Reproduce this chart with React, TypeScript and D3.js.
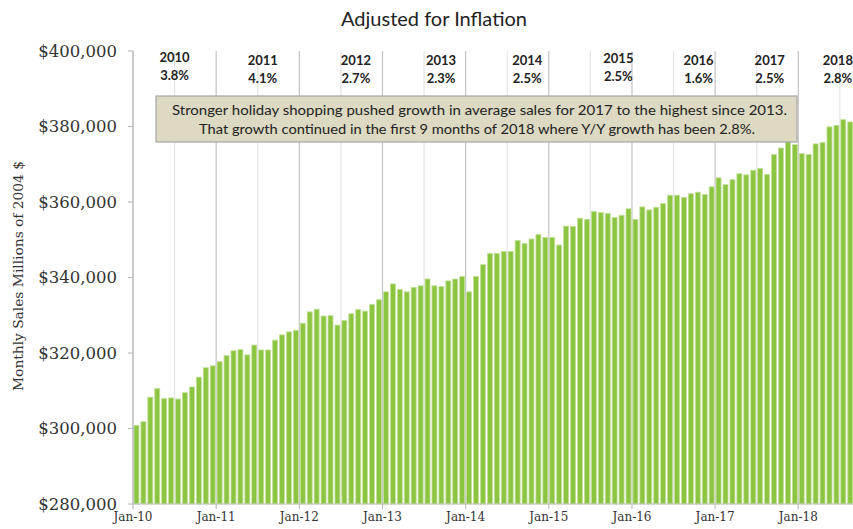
import React from 'react';
import * as d3 from 'd3';

// Monthly retail sales, millions of 2004 $, Jan-2010 .. Aug-2018
const salesValues: number[] = [
  // 2010
  300800, 301800, 308300, 310600, 307900, 308100, 307800, 309500, 311000, 313600, 316100, 316600,
  // 2011
  317700, 319300, 320600, 320900, 319500, 322100, 320800, 320800, 323400, 324800, 325600, 326000,
  // 2012
  327900, 330900, 331600, 329800, 329900, 327400, 328600, 330400, 331500, 331100, 332900, 334100,
  // 2013
  336200, 338300, 336800, 336200, 337400, 337800, 339600, 337800, 337600, 339100, 339600, 340300,
  // 2014
  336200, 340300, 343400, 346400, 346400, 346900, 346900, 349800, 349000, 350200, 351400, 350600,
  // 2015
  350600, 348600, 353600, 353500, 355700, 355400, 357500, 357200, 357000, 355900, 356500, 358200,
  // 2016
  355400, 358700, 357900, 358600, 359600, 361800, 361800, 361200, 362200, 362600, 362000, 364000,
  // 2017
  366400, 364600, 365900, 367500, 367200, 368400, 368900, 367300, 372600, 374300, 376100, 375200,
  // 2018
  372800, 372600, 375400, 375800, 379900, 380300, 381800, 381200,
];

const monthNames = ['Jan', 'Feb', 'Mar', 'Apr', 'May', 'Jun', 'Jul', 'Aug', 'Sep', 'Oct', 'Nov', 'Dec'];
const firstYear = 10;
const categories: string[] = salesValues.map(
  (_, i) => `${monthNames[i % 12]}-${firstYear + Math.floor(i / 12)}`
);

const xTickLabels = ['Jan-10', 'Jan-11', 'Jan-12', 'Jan-13', 'Jan-14', 'Jan-15', 'Jan-16', 'Jan-17', 'Jan-18'];
const yTicks = [280000, 300000, 320000, 340000, 360000, 380000, 400000];

const annYears = ['2010', '2011', '2012', '2013', '2014', '2015', '2016', '2017', '2018'];
const annGrowth = ['3.8%', '4.1%', '2.7%', '2.3%', '2.5%', '2.5%', '1.6%', '2.5%', '2.8%'];

const titleText = 'Adjusted for Inflation';
const yAxisTitle = 'Monthly Sales Millions of 2004 $';
const noteLines = [
  'Stronger holiday shopping  pushed growth in average sales for 2017 to the  highest since 2013.',
  'That growth continued in the first 9 months of 2018 where Y/Y growth has been 2.8%.',
];

// layout constants
const W = 853;
const H = 529;
const plotLeft = 133;
const plotTop = 51;
const plotBottom = 504;
const monthStep = 6.93;
const annDx = [0, 5, 15, 17, 20, 28, 25, 13, -2];
const annDy = [-3, 0, 0, 0, 0, -2, 0, 0, 0];

export default function App() {
  const n = salesValues.length;
  const plotRight = plotLeft + n * monthStep;

  const x = d3
    .scaleBand<string>()
    .domain(categories)
    .range([plotLeft, plotRight])
    .paddingInner(0.28)
    .paddingOuter(0.14);

  const edge = d3.scaleLinear().domain([0, n]).range([plotLeft, plotRight]);

  const y = d3.scaleLinear().domain([280000, 400000]).range([plotBottom, plotTop]);

  const fmt = (v: number) => '$' + d3.format(',')(v);

  const gridIdx = d3.range(0, n, 6);
  const janIdx = xTickLabels.map((lbl) => categories.indexOf(lbl));

  const serif = "'DejaVu Serif', 'Liberation Serif', serif";
  const sans = "Lato, 'Open Sans', sans-serif";

  return (
    <svg
      width={W}
      height={H}
      viewBox={`0 0 ${W} ${H}`}
      style={{ position: 'absolute', left: 0, top: 0, background: '#fff' }}
    >
      <rect x={0} y={0} width={W} height={H} fill="#fff" />

      {/* vertical gridlines: Jan (major) and Jul (minor) */}
      {gridIdx.map((k) => (
        <line
          key={'g' + k}
          x1={edge(k)}
          x2={edge(k)}
          y1={plotTop}
          y2={plotBottom}
          stroke={k % 12 === 0 ? '#c4c4c4' : '#e4e4e4'}
          strokeWidth={1.2}
        />
      ))}

      {/* bars */}
      {salesValues.map((v, i) => (
        <rect
          key={'b' + i}
          x={x(categories[i])!}
          y={y(v)}
          width={x.bandwidth()}
          height={plotBottom - y(v)}
          fill="#8cc540"
          stroke="#c3e09a"
          strokeWidth={0.8}
        />
      ))}

      {/* y axis */}
      <line x1={plotLeft} x2={plotLeft} y1={plotTop} y2={plotBottom} stroke="#bfbfbf" strokeWidth={1.2} />
      {yTicks.map((t) => (
        <g key={'yt' + t}>
          <line x1={plotLeft - 5} x2={plotLeft} y1={y(t)} y2={y(t)} stroke="#bfbfbf" strokeWidth={1.2} />
          <text
            x={117}
            y={y(t)}
            dy="0.35em"
            textAnchor="end"
            fontFamily={serif}
            fontSize={16.5}
            fill="#333"
          >
            {fmt(t)}
          </text>
        </g>
      ))}

      {/* x axis */}
      <line x1={plotLeft} x2={W} y1={plotBottom} y2={plotBottom} stroke="#bfbfbf" strokeWidth={1.2} />
      {janIdx.map((k, j) => (
        <g key={'xt' + k}>
          <line x1={edge(k)} x2={edge(k)} y1={plotBottom} y2={plotBottom + 5} stroke="#bfbfbf" strokeWidth={1.2} />
          <text
            x={edge(k)}
            y={521}
            textAnchor="middle"
            fontFamily={serif}
            fontSize={12}
            fill="#333"
          >
            {xTickLabels[j]}
          </text>
        </g>
      ))}

      {/* y axis title */}
      <text
        transform={`translate(23, 276) rotate(-90)`}
        textAnchor="middle"
        fontFamily={serif}
        fontSize={13.5}
        fill="#333"
        textLength={230}
        lengthAdjust="spacingAndGlyphs"
      >
        {yAxisTitle}
      </text>

      {/* title */}
      <text x={434} y={26} textAnchor="middle" fontFamily={sans} fontSize={20} fill="#222">
        {titleText}
      </text>

      {/* year growth annotations */}
      {annYears.map((yr, j) => {
        const cx = edge(janIdx[j] + 6) + annDx[j];
        return (
          <g key={'a' + yr} fontFamily={sans} fontWeight="bold" fontSize={13} fill="#222">
            <text x={cx} y={65 + annDy[j]} textAnchor="middle">
              {yr}
            </text>
            <text x={cx} y={83 + annDy[j]} textAnchor="middle">
              {annGrowth[j]}
            </text>
          </g>
        );
      })}

      {/* note box */}
      <rect x={156} y={96} width={641} height={46} fill="#ddd9c3" stroke="#a6a6a6" strokeWidth={1.2} />
      <text
        x={479.5}
        y={115}
        textAnchor="middle"
        fontFamily={sans}
        fontSize={13.5}
        fill="#222"
        textLength={615}
        lengthAdjust="spacingAndGlyphs"
      >
        {noteLines[0]}
      </text>
      <text
        x={477}
        y={134}
        textAnchor="middle"
        fontFamily={sans}
        fontSize={13.5}
        fill="#222"
        textLength={556}
        lengthAdjust="spacingAndGlyphs"
      >
        {noteLines[1]}
      </text>
    </svg>
  );
}
